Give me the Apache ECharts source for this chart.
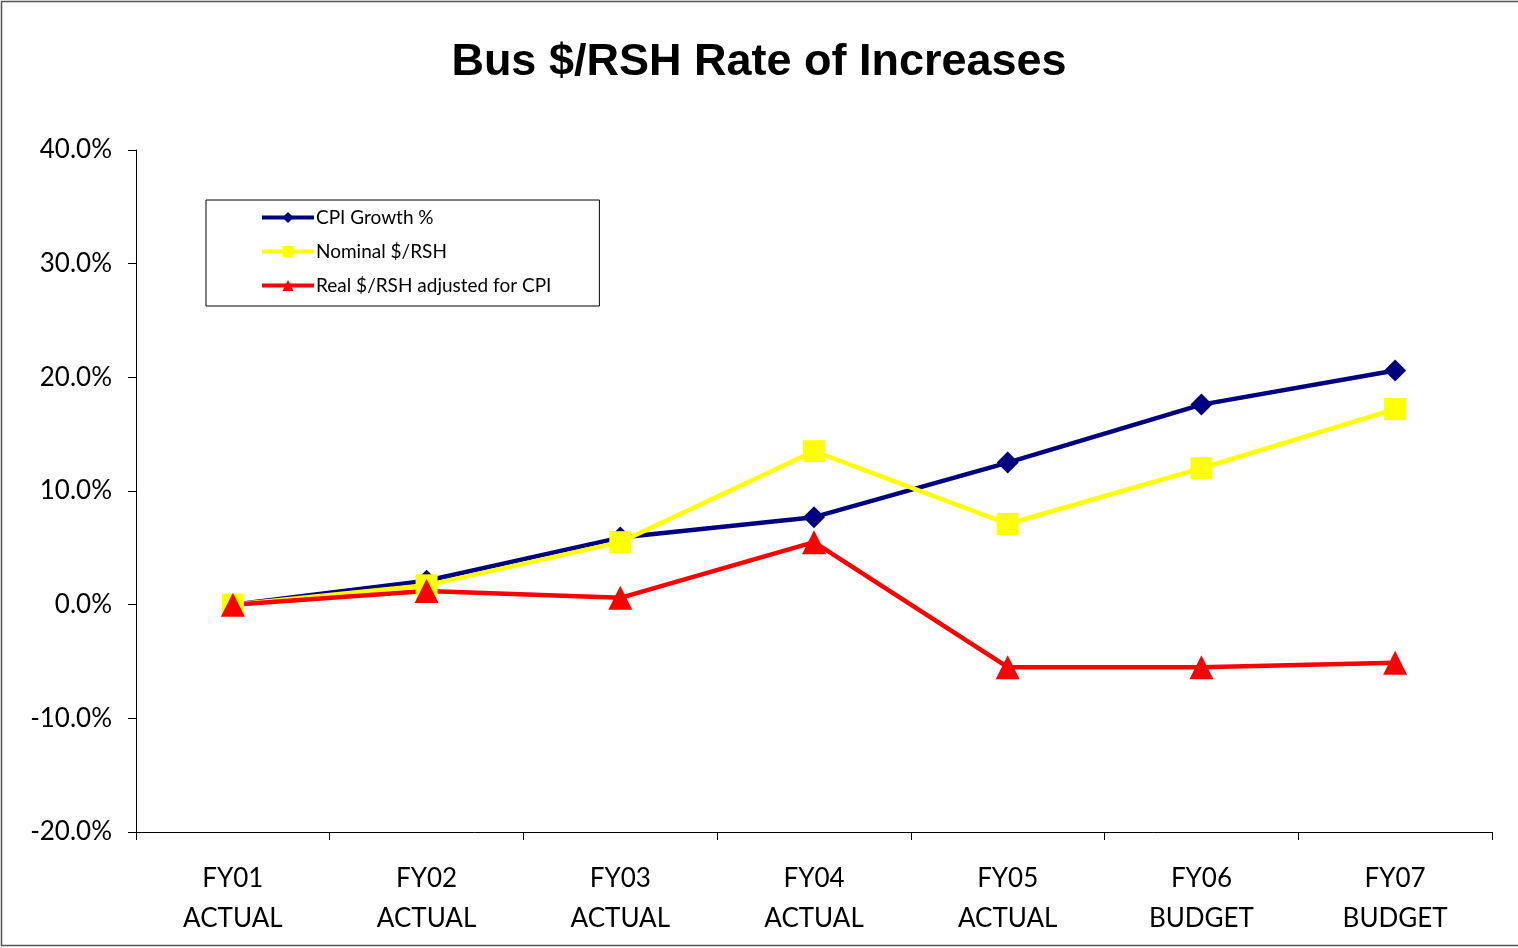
<!DOCTYPE html>
<html><head><meta charset="utf-8">
<script src="https://cdn.jsdelivr.net/npm/echarts@6/dist/echarts.min.js"></script>
<style>html,body{margin:0;padding:0;background:#fff}#c{width:1518px;height:948px}</style>
</head><body><div id="c"></div>
<script>
const categories = ['FY01\nACTUAL','FY02\nACTUAL','FY03\nACTUAL','FY04\nACTUAL','FY05\nACTUAL','FY06\nBUDGET','FY07\nBUDGET'];
const cpiGrowth = [0.0, 2.1, 5.9, 7.7, 12.5, 17.6, 20.6];
const nominalRSH = [0.0, 1.7, 5.5, 13.5, 7.1, 12.0, 17.2];
const realRSH = [0.0, 1.2, 0.6, 5.5, -5.5, -5.5, -5.1];
const seriesNames = ['CPI Growth %','Nominal $/RSH','Real $/RSH adjusted for CPI'];

const font = 'Lato, "Open Sans", sans-serif';
const chart = echarts.init(document.getElementById('c'));
chart.setOption({
  animation:false,
  backgroundColor:'#fff',
  title:{text:'Bus $/RSH Rate of Increases',left:'center',top:35,
    textStyle:{fontFamily:'"Liberation Sans", Arial, sans-serif',fontWeight:'bold',fontSize:45,color:'#000'}},
  graphic:[{type:'rect',shape:{x:1.5,y:1.5,width:1520,height:944},style:{fill:null,stroke:'#555',lineWidth:1.5},silent:true}],
  legend:{orient:'vertical',left:206,top:200,padding:[8,48,11,54],itemGap:15,itemWidth:52,itemHeight:14,
    borderColor:'#000',borderWidth:1,
    textStyle:{fontFamily:font,fontSize:19,color:'#000',padding:[0,0,0,-3]},
    data:seriesNames.map(n=>({name:n,lineStyle:{width:4}}))},
  grid:{left:136,right:26,top:150,bottom:116,containLabel:false},
  xAxis:{type:'category',data:categories,boundaryGap:true,
    axisLine:{onZero:false,lineStyle:{color:'#000',width:1}},
    axisTick:{show:true,length:8,lineStyle:{color:'#000'}},
    axisLabel:{fontFamily:font,fontSize:26,color:'#000',lineHeight:40,margin:27}},
  yAxis:{type:'value',min:-20,max:40,interval:10,
    axisLine:{show:true,lineStyle:{color:'#000',width:1}},
    axisTick:{show:true,length:8,lineStyle:{color:'#000'}},
    splitLine:{show:false},
    axisLabel:{fontFamily:font,fontSize:26,color:'#000',margin:24,formatter:v=>v.toFixed(1)+'%'}},
  series:[
    {name:seriesNames[0],type:'line',data:cpiGrowth,symbol:'diamond',symbolSize:[22,22],
     itemStyle:{color:'#000080'},lineStyle:{color:'#000080',width:4.5}},
    {name:seriesNames[1],type:'line',data:nominalRSH,symbol:'rect',symbolSize:22,
     itemStyle:{color:'#FFFF00'},lineStyle:{color:'#FFFF00',width:4.5}},
    {name:seriesNames[2],type:'line',data:realRSH,symbol:'triangle',symbolSize:24,
     itemStyle:{color:'#FF0000'},lineStyle:{color:'#FF0000',width:4.5}}
  ]
});
</script></body></html>
